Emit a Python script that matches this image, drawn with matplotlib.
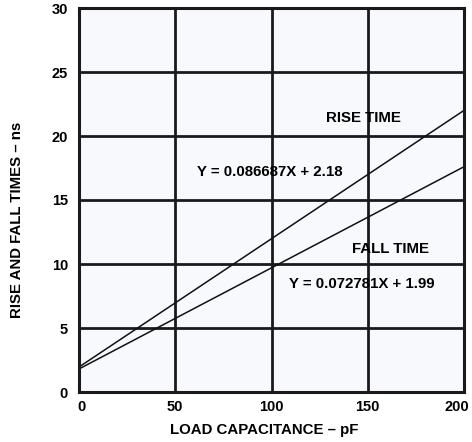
import matplotlib
matplotlib.use('Agg')
import matplotlib.pyplot as plt
import matplotlib.transforms as mtransforms

# load capacitance (pF) vs rise/fall time (ns), endpoints
cap = [0, 200]
rise = [1.95, 22.0]
fall = [1.8, 17.6]

x_ticks = [0, 50, 100, 150, 200]
y_ticks = [0, 5, 10, 15, 20, 25, 30]

plt.rcParams['font.family'] = ['Liberation Sans', 'DejaVu Sans']
plt.rcParams['font.weight'] = 'bold'

fig = plt.figure(figsize=(4.72, 4.42), dpi=100)
ax = fig.add_axes([79 / 472, 1 - 392 / 442, 385 / 472, 384 / 442])
ax.set_facecolor('#f8f9fc')

ax.plot(cap, rise, color='#111111', lw=1.1)
ax.plot(cap, fall, color='#111111', lw=1.1)

ax.set_xlim(0, 200)
ax.set_ylim(0, 30)
ax.set_xticks(x_ticks)
ax.set_yticks(y_ticks)
ax.grid(True, color='#1a1a1a', lw=2.0)
ax.set_axisbelow(True)
for s in ax.spines.values():
    s.set_linewidth(2.2)
    s.set_color('#1a1a1a')
ax.tick_params(length=0, labelsize=10.5)
ax.tick_params(axis='x', pad=6)
ax.tick_params(axis='y', pad=8)
for lab in ax.get_xticklabels() + ax.get_yticklabels():
    lab.set_fontweight('bold')

# nudge end labels like the original (first right, last left so it stays on the page)
xlabs = ax.get_xticklabels()
xlabs[0].set_transform(xlabs[0].get_transform() +
                       mtransforms.ScaledTranslation(3 / 100, 0, fig.dpi_scale_trans))
xlabs[-1].set_transform(xlabs[-1].get_transform() +
                        mtransforms.ScaledTranslation(-7 / 100, 0, fig.dpi_scale_trans))

fig.text(264 / 472, 1 - 430 / 442, 'LOAD CAPACITANCE – pF', fontsize=10.8,
         fontweight='bold', ha='center', va='center')
fig.text(17.5 / 472, 1 - 220 / 442, 'RISE AND FALL TIMES – ns', fontsize=10.8,
         fontweight='bold', ha='center', va='center', rotation=90)

ax.text(148, 21.4, 'RISE TIME', fontsize=10.8, fontweight='bold', ha='center', va='center')
ax.text(99, 17.2, 'Y = 0.086687X + 2.18', fontsize=10.8, fontweight='bold', ha='center', va='center')
ax.text(162, 11.2, 'FALL TIME', fontsize=10.8, fontweight='bold', ha='center', va='center')
ax.text(147, 8.4, 'Y = 0.072781X + 1.99', fontsize=10.8, fontweight='bold', ha='center', va='center')

fig.savefig('out.png', dpi=100)
